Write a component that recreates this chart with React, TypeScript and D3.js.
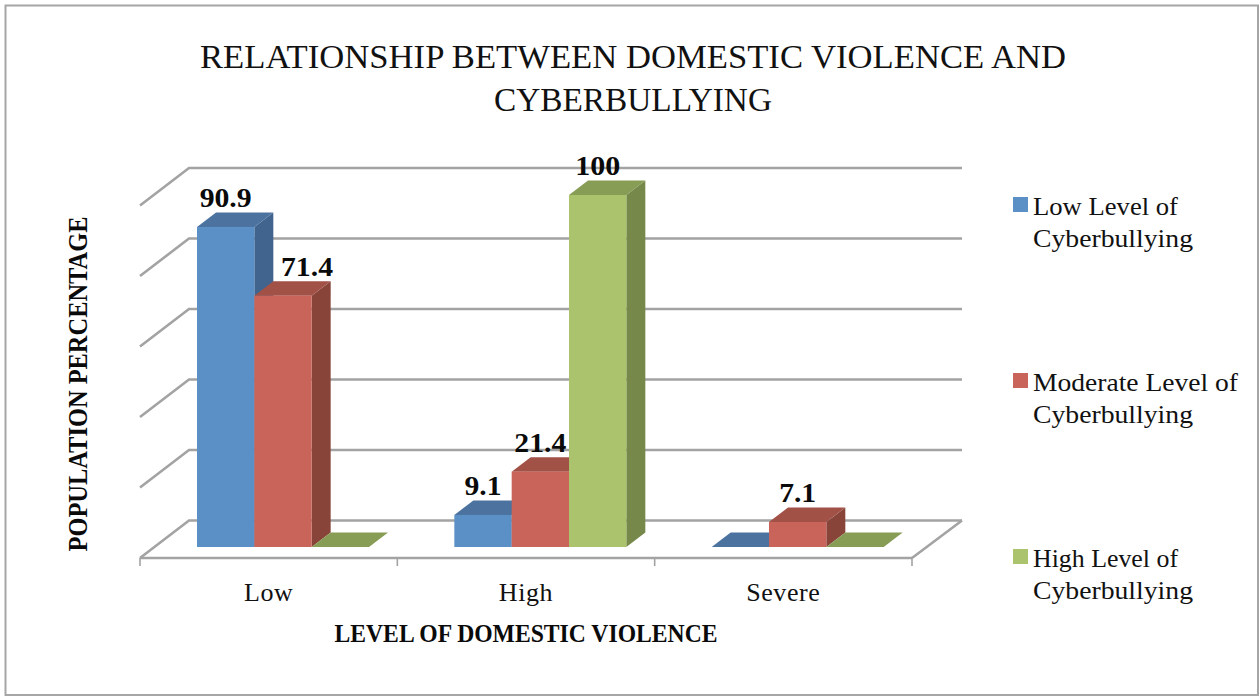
import React from "react";
import * as d3 from "d3";

const categories = ["Low", "High", "Severe"];
const seriesNames = ["Low Level of Cyberbullying", "Moderate Level of Cyberbullying", "High Level of Cyberbullying"];
const lowSeries = [90.9, 9.1, 0];
const moderateSeries = [71.4, 21.4, 7.1];
const highSeries = [0, 100, 0];
const gridValues = [0, 20, 40, 60, 80, 100];
const legendLines = [["Low Level of", "Cyberbullying"], ["Moderate Level of", "Cyberbullying"], ["High Level of", "Cyberbullying"]];

const front = ["#5b90c6", "#c9645a", "#aac36c"];
const top = ["#4c73a0", "#a25147", "#879c54"];
const side = ["#41648e", "#89443a", "#76894a"];
const serif = "'Liberation Serif', serif";
const grid = "#a3a3a3";

export default function App() {
  const W = 1259, H = 697;
  // Category axis along the front edge of the floor
  const axisX = d3.scaleBand<string>().domain(categories).range([140, 912]);
  const seriesX = d3.scaleBand<number>().domain([0, 1, 2]).range([57, 229]);
  const barW = seriesX.bandwidth();
  // Bars stand on the y = 547 line of the floor
  const y = d3.scaleLinear().domain([0, 100]).range([547, 195]);
  // Back wall gridlines
  const wallY = d3.scaleLinear().domain([0, 100]).range([520.5, 168]);
  const wall = { dx: 49, dy: 37.5 };
  const wallRight = 962;
  const bar = { dx: 19, dy: 14.5 };
  const series = [lowSeries, moderateSeries, highSeries];
  const frontY = wallY(0) + wall.dy;

  // Width of a bold value label: digits plus the decimal point
  const labelWidth = (s: string) => s.replace(".", "").length * 15 + (s.includes(".") ? 7 : 0);
  // The tall neighbouring bar pushes the 71.4 label to the right
  const labelShift = (si: number, ci: number) => (si === 1 && ci === 0 ? 24 : 0);

  const legendY = [206, 382, 558];

  return (
    <svg width={W} height={H} viewBox={`0 0 ${W} ${H}`} style={{ position: "absolute", left: 0, top: 0, background: "#fff" }}>
      <rect x={5.5} y={5.5} width={1252.5} height={689.5} fill="#fff" stroke="#a6a6a6" strokeWidth={2} />

      <text x={633} y={68} textAnchor="middle" fontFamily={serif} fontSize={34} fill="#111" textLength={866} lengthAdjust="spacingAndGlyphs">
        RELATIONSHIP BETWEEN DOMESTIC VIOLENCE AND
      </text>
      <text x={633} y={111} textAnchor="middle" fontFamily={serif} fontSize={34} fill="#111" textLength={278} lengthAdjust="spacingAndGlyphs">
        CYBERBULLYING
      </text>

      {/* Wall gridlines with their receding ticks */}
      {gridValues.map((v) => (
        <path
          key={v}
          d={`M140,${wallY(v) + wall.dy}L${140 + wall.dx},${wallY(v)}H${wallRight}`}
          fill="none"
          stroke={grid}
          strokeWidth={2.6}
        />
      ))}
      {/* Floor edges and category ticks */}
      <path d={`M912,${frontY}L${wallRight},${wallY(0)}`} fill="none" stroke={grid} strokeWidth={2.6} />
      <path d={`M140,${frontY}H912`} fill="none" stroke={grid} strokeWidth={2.6} />
      {[...categories.map((c) => axisX(c) as number), 912].map((x) => (
        <line key={x} x1={x} x2={x} y1={frontY} y2={frontY + 8} stroke={grid} strokeWidth={1.6} />
      ))}

      {/* Bars, painted left to right so each front face covers the previous side face */}
      {categories.map((c, ci) => (
        <g key={c}>
          {[0, 1, 2].map((si) => {
            const v = series[si][ci];
            const x0 = (axisX(c) as number) + (seriesX(si) as number);
            const x1 = x0 + barW;
            const yt = y(v);
            const y0 = y(0);
            return (
              <g key={si}>
                <path d={`M${x1},${yt}L${x1 + bar.dx},${yt - bar.dy}V${y0 - bar.dy}L${x1},${y0}Z`} fill={side[si]} />
                <path d={`M${x0},${yt}L${x0 + bar.dx},${yt - bar.dy}H${x1 + bar.dx}L${x1},${yt}Z`} fill={top[si]} />
                {v > 0 && <rect x={x0} y={yt} width={barW} height={y0 - yt} fill={front[si]} />}
              </g>
            );
          })}
        </g>
      ))}

      {/* Value labels */}
      {categories.map((c, ci) =>
        series.map((vals, si) => {
          const v = vals[ci];
          if (v === 0) return null;
          const s = String(v);
          const cx = (axisX(c) as number) + (seriesX(si) as number) + barW / 2 + labelShift(si, ci);
          return (
            <text key={`${c}${si}`} x={cx} y={y(v) - 20} textAnchor="middle" fontFamily={serif} fontWeight="bold" fontSize={28} fill="#0a0a0a" textLength={labelWidth(s)} lengthAdjust="spacingAndGlyphs">
              {s}
            </text>
          );
        })
      )}

      {categories.map((c) => (
        <text key={c} x={(axisX(c) as number) + axisX.bandwidth() / 2} y={601} textAnchor="middle" fontFamily={serif} fontSize={26} letterSpacing={0.6} fill="#111">
          {c}
        </text>
      ))}

      <text x={526} y={642} textAnchor="middle" fontFamily={serif} fontWeight="bold" fontSize={26} fill="#0a0a0a" textLength={383} lengthAdjust="spacingAndGlyphs">
        LEVEL OF DOMESTIC VIOLENCE
      </text>
      <text transform="translate(87,384) rotate(-90)" textAnchor="middle" fontFamily={serif} fontWeight="bold" fontSize={27} fill="#0a0a0a" textLength={335} lengthAdjust="spacingAndGlyphs">
        POPULATION PERCENTAGE
      </text>

      {/* Legend */}
      {seriesNames.map((name, i) => (
        <g key={name}>
          <rect x={1013} y={legendY[i] - 9} width={15} height={15} fill={front[i]} />
          <text x={1033} y={legendY[i] + 9} fontFamily={serif} fontSize={26} fill="#111" textLength={i === 1 ? 205 : 145} lengthAdjust="spacingAndGlyphs">
            {legendLines[i][0]}
          </text>
          <text x={1033} y={legendY[i] + 41} fontFamily={serif} fontSize={26} fill="#111" textLength={160} lengthAdjust="spacingAndGlyphs">
            {legendLines[i][1]}
          </text>
        </g>
      ))}
    </svg>
  );
}
